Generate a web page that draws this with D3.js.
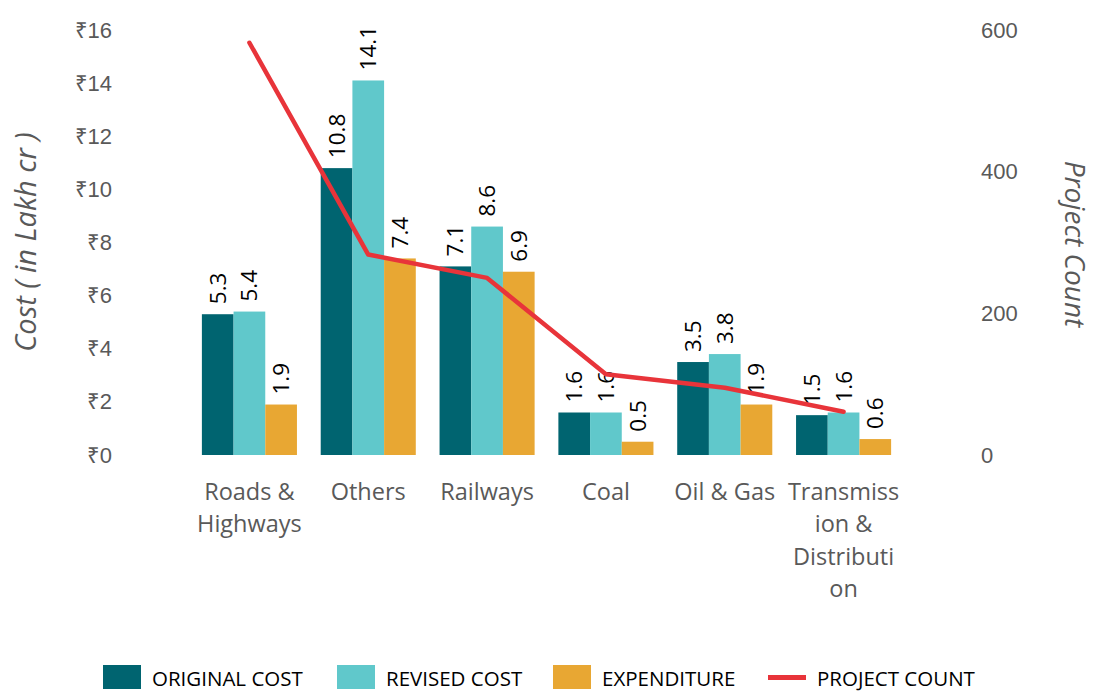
<!DOCTYPE html>
<html>
<head>
<meta charset="utf-8">
<script src="https://cdn.jsdelivr.net/npm/d3@7"></script>
<style>
	body { margin: 0; background: #fff; }
	svg { display: block; font-family: "Open Sans", "Noto Sans", sans-serif; }
	.axis text { fill: #595959; font-size: 22px; }
	.axis path, .axis line { display: none; }
</style>
</head>
<body>
<svg id="chart" width="1096" height="694"></svg>
<script>
var categories = ["Roads & Highways", "Others", "Railways", "Coal", "Oil & Gas", "Transmission & Distribution"];
var categoryLines = [["Roads &", "Highways"], ["Others"], ["Railways"], ["Coal"], ["Oil & Gas"], ["Transmiss", "ion &", "Distributi", "on"]];
var originalCost = [5.3, 10.8, 7.1, 1.6, 3.5, 1.5];
var revisedCost = [5.4, 14.1, 8.6, 1.6, 3.8, 1.6];
var expenditure = [1.9, 7.4, 6.9, 0.5, 1.9, 0.6];
var projectCount = [582, 283, 250, 114, 95, 61];
var costTicks = [0, 2, 4, 6, 8, 10, 12, 14, 16];
var countTicks = [0, 200, 400, 600];

var seriesNames = ["ORIGINAL COST", "REVISED COST", "EXPENDITURE"];
var seriesColors = ["#006470", "#60C8CB", "#E8A733"];
var lineColor = "#E8343A";

var chart = d3.select("#chart");
var series = [originalCost, revisedCost, expenditure];

// left scale for cost, right scale for project count, sharing the same pixel range
var cost = d3.scaleLinear().domain([0, 16]).range([455, 30]);
var count = d3.scaleLinear().domain([0, 600]).range([455, 30]);
var cat = d3.scaleBand().domain(categories).range([190, 903]).paddingInner(0.2).paddingOuter(0.1);
var sub = d3.scaleBand().domain([0, 1, 2]).range([0, cat.bandwidth()]);

// axes: labels only, no lines
chart.append("g").attr("class", "axis y-left").attr("transform", "translate(112,0)")
	.call(d3.axisLeft(cost).tickValues(costTicks).tickSize(0).tickPadding(0).tickFormat(function(d) { return "\u20B9" + d; }));
chart.append("g").attr("class", "axis y-right").attr("transform", "translate(981,0)")
	.call(d3.axisRight(count).tickValues(countTicks).tickSize(0).tickPadding(0));

// axis titles
chart.append("text").attr("transform", "translate(36,242) rotate(-90)").attr("text-anchor", "middle")
	.attr("font-style", "italic").attr("font-size", 29).attr("fill", "#595959").text("Cost ( in Lakh cr )");
chart.append("text").attr("transform", "translate(1065,244) rotate(90)").attr("text-anchor", "middle")
	.attr("font-style", "italic").attr("font-size", 28).attr("fill", "#595959").text("Project Count");

// category labels, wrapped as in the original
var xl = chart.append("g").attr("class", "x-labels");
categories.forEach(function(c, i) {
	var t = xl.append("text").attr("text-anchor", "middle").attr("font-size", 23.5).attr("fill", "#595959");
	categoryLines[i].forEach(function(line, j) {
		t.append("tspan").attr("x", cat(c) + cat.bandwidth() / 2).attr("y", 500 + j * 32.4).text(line);
	});
});

// bar groups
var groups = chart.selectAll("g.bars").data(categories).enter().append("g").attr("class", "bars")
	.attr("transform", function(c) { return "translate(" + cat(c) + ",0)"; });
series.forEach(function(values, s) {
	groups.append("rect")
		.attr("x", sub(s)).attr("width", sub.bandwidth())
		.attr("y", function(c, i) { return cost(values[i]); })
		.attr("height", function(c, i) { return cost(0) - cost(values[i]); })
		.attr("fill", seriesColors[s]);
	groups.append("text")
		.attr("transform", function(c, i) { return "translate(" + (sub(s) + sub.bandwidth() / 2 + 8) + "," + (cost(values[i]) - 10) + ") rotate(-90)"; })
		.attr("font-size", 22.5).attr("fill", "#000")
		.text(function(c, i) { return values[i].toFixed(1); });
});

// project count line through category centres
var line = d3.line().x(function(d, i) { return cat(categories[i]) + cat.bandwidth() / 2; }).y(function(d) { return count(d); });
chart.append("path").datum(projectCount).attr("d", line).attr("fill", "none")
	.attr("stroke", lineColor).attr("stroke-width", 4.5).attr("stroke-linecap", "round").attr("stroke-linejoin", "round");

// legend
var legendX = [103, 337, 553, 768];
var legend = chart.append("g").attr("class", "legend");
seriesNames.concat(["PROJECT COUNT"]).forEach(function(name, i) {
	if (i < 3)
		legend.append("rect").attr("x", legendX[i]).attr("y", 665).attr("width", 38).attr("height", 24).attr("fill", seriesColors[i]);
	else
		legend.append("rect").attr("x", legendX[i]).attr("y", 675).attr("width", 38).attr("height", 5).attr("fill", lineColor);
	legend.append("text").attr("x", legendX[i] + 49).attr("y", 686).attr("font-size", 20.5).attr("fill", "#000").text(name);
});
</script>
</body>
</html>
